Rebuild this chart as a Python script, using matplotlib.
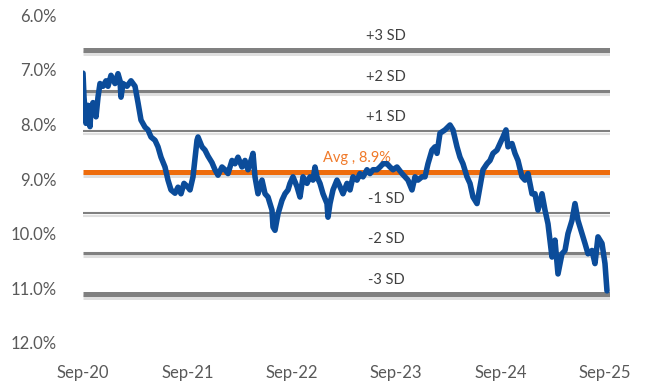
import matplotlib
matplotlib.use("Agg")
import matplotlib.pyplot as plt
import matplotlib.dates as mdates
import matplotlib.patheffects as pe
import matplotlib.transforms as mtransforms
import pandas as pd

START = "2020-09-01"

# weeks since Sep-20 and the yield (%) at that point
weeks = [
    0, 0.5, 1.5, 2.5, 3.5, 4, 5, 6.5, 7.5, 8.5, 10, 11.5, 12.5, 14, 16, 17.5,
    18.5, 19, 20, 22, 24, 26, 27.5, 29, 31, 32.5, 34, 36, 37.5, 39, 41, 42.5,
    44, 46, 47.5, 49, 50.5, 52.5, 53.5, 55, 57, 57.5, 59.5, 61, 62.5, 64.5,
    66, 67.5, 69.5, 71, 72.5, 74.5, 76, 77.5, 79.5, 81, 82.5, 84.5, 85, 86,
    87.5, 89.5, 91, 92.5, 94.5, 95, 96, 97.5, 99.5, 101, 102.5, 103.5, 105,
    107, 108.5, 110, 112, 113.5, 115, 116, 117, 118.5, 120, 122, 122.5, 123.5,
    125, 127, 128.5, 130, 132, 133.5, 135, 137, 138.5, 140, 142, 143.5, 145,
    147, 148.5, 150, 152, 153.5, 155, 157, 159.5, 161, 162.5, 164.5, 166,
    167.5, 169.5, 171, 172.5, 174.5, 176, 177, 178.5, 181, 183.5, 185, 187,
    188.5, 190, 192, 193.5, 195, 197, 198.5, 200, 202, 203.5, 205, 207, 208.5,
    210, 211.5, 212.5, 214.5, 216, 217.5, 219.5, 221, 222.5, 224.5, 226,
    227.5, 229.5, 231, 232.5, 234.5, 236, 237.5, 239.5, 241, 242.5, 244.5,
    246, 247.5, 249.5, 251, 252.5, 254.5, 256, 257.5, 259.5, 261, 262,
]
yields = [
    7.06, 7.5, 7.98, 7.65, 8.04, 7.7, 7.6, 7.86, 7.5, 7.25, 7.3, 7.2, 7.3, 7.1,
    7.25, 7.07, 7.2, 7.5, 7.25, 7.3, 7.2, 7.3, 7.6, 7.92, 8.05, 8.1, 8.23,
    8.29, 8.41, 8.6, 8.78, 9.02, 9.2, 9.26, 9.15, 9.27, 9.08, 9.15, 9.2, 8.96,
    8.29, 8.23, 8.41, 8.47, 8.58, 8.7, 8.83, 8.93, 8.78, 8.83, 8.9, 8.66,
    8.72, 8.6, 8.78, 8.66, 8.83, 8.6, 8.53, 8.96, 9.27, 9.02, 9.27, 9.33,
    9.57, 9.88, 9.94, 9.64, 9.39, 9.27, 9.2, 9.08, 8.96, 9.14, 9.33, 8.96,
    9.08, 8.96, 9.02, 8.78, 8.96, 9.08, 9.27, 9.45, 9.7, 9.45, 9.2, 9.02,
    9.14, 9.27, 9.08, 9.2, 8.96, 9.02, 8.9, 8.96, 8.83, 8.9, 8.83, 8.83,
    8.78, 8.72, 8.72, 8.78, 8.83, 8.78, 8.9, 8.96, 9.02, 9.2, 8.96, 9.02,
    8.96, 8.96, 8.72, 8.47, 8.41, 8.53, 8.16, 8.1, 8.01, 8.1, 8.41, 8.6,
    8.72, 8.96, 9.08, 9.33, 9.45, 9.14, 8.83, 8.72, 8.66, 8.53, 8.47, 8.35,
    8.23, 8.1, 8.41, 8.35, 8.53, 8.66, 8.96, 9.02, 8.9, 9.27, 9.27, 9.57,
    9.27, 9.57, 9.82, 10.43, 10.12, 10.74, 10.37, 10.31, 10.0, 9.76, 9.45,
    9.76, 10.0, 10.18, 10.37, 10.31, 10.55, 10.06, 10.18, 10.55, 11.05,
]

avg = 8.87
sd = 0.745
band_labels = ["+3 SD", "+2 SD", "+1 SD", "-1 SD", "-2 SD", "-3 SD"]
band_mult = [-3, -2, -1, 1, 2, 3]
band_width = [3.6, 2.2, 1.5, 1.5, 2.2, 3.6]

y_ticks = [6, 7, 8, 9, 10, 11, 12]
x_ticks = ["2020-09-01", "2021-09-01", "2022-09-01", "2023-09-01",
           "2024-09-01", "2025-09-01"]

BLUE = "#0B4C9A"
ORANGE = "#EE6C0C"
GREY = "#808080"
TEXT = "#595959"

plt.rcParams["font.family"] = ["Lato", "DejaVu Sans"]

dates = pd.Timestamp(START) + pd.to_timedelta([w * 7 for w in weeks], unit="D")

fig = plt.figure(figsize=(6.51, 3.83), dpi=100)
ax = fig.add_axes([0.1275, 0.1052, 0.8095, 0.8548])

shadow = [pe.SimpleLineShadow(offset=(0, -2.2), shadow_color="#b0b0b0",
                              alpha=0.4, rho=1.0),
          pe.Normal()]

label_tf = mtransforms.blended_transform_factory(ax.transAxes, ax.transData)

for lab, k, lw in zip(band_labels, band_mult, band_width):
    level = avg + k * sd
    ax.axhline(level, color=GREY, lw=lw, zorder=2, path_effects=shadow,
               solid_capstyle="butt")
    ax.annotate(lab, xy=(0.575, level), xycoords=label_tf,
                xytext=(0, 10), textcoords="offset points",
                ha="center", va="center", fontsize=10.5, color="#404040")

ax.axhline(avg, color=ORANGE, lw=3.6, zorder=3, path_effects=shadow,
           solid_capstyle="butt")
ax.annotate(f"Avg , {avg:.1f}%", xy=(0.52, avg), xycoords=label_tf,
            xytext=(0, 10), textcoords="offset points",
            ha="center", va="center", fontsize=10.5, color="#F07A2A")

ax.plot(dates, yields, color=BLUE, lw=4.0, zorder=4,
        solid_joinstyle="round", solid_capstyle="round")

ax.set_ylim(12, 6)
ax.set_yticks(y_ticks)
ax.set_yticklabels([f"{t:.1f}%" for t in y_ticks])
ax.set_xlim(pd.Timestamp(START), pd.Timestamp(START) + pd.Timedelta(weeks=263.5))
ax.set_xticks(pd.to_datetime(x_ticks))
ax.xaxis.set_major_formatter(mdates.DateFormatter("%b-%y"))

for s in ax.spines.values():
    s.set_visible(False)
ax.tick_params(axis="both", length=0, labelsize=12, labelcolor=TEXT)
ax.tick_params(axis="y", pad=19)
ax.tick_params(axis="x", pad=16)

fig.savefig("out.png", dpi=100)
